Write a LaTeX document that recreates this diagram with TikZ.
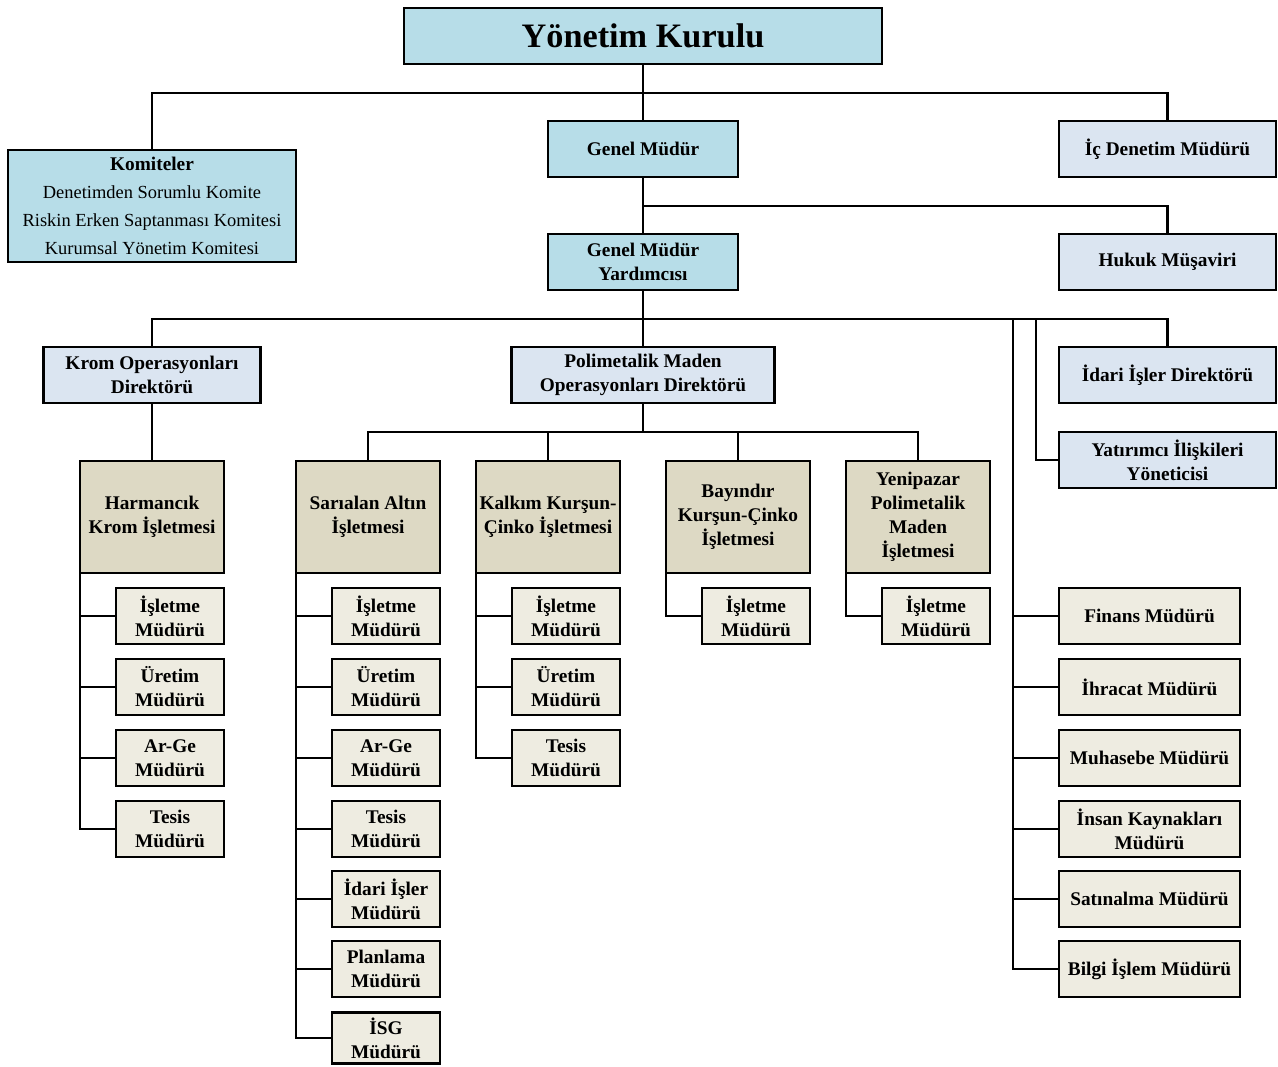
\documentclass[tikz,border=0pt]{standalone}
\usepackage{fontspec}
\setmainfont{Liberation Serif}
\usetikzlibrary{positioning}
\definecolor{boardblue}{HTML}{B7DDE8}
\definecolor{dirblue}{HTML}{DBE5F1}
\definecolor{optan}{HTML}{DDD9C4}
\definecolor{subbeige}{HTML}{EEECE1}

\tikzset{
  box/.style={draw, line width=1.6pt, inner sep=0pt, outer sep=0pt, align=center,
    font=\bfseries\fontsize{11}{13.7}\selectfont, minimum height=1.12cm},
  topbox/.style={box, fill=boardblue},
  dirbox/.style={box, fill=dirblue, minimum width=4.34cm},
  opbox/.style={box, fill=optan, minimum width=2.88cm, minimum height=2.24cm},
  subbox/.style={box, fill=subbeige, minimum width=2.16cm},
  mgrbox/.style={box, fill=subbeige, minimum width=3.62cm},
  link/.style={line width=1.6pt}
}

\begin{document}
\begin{tikzpicture}[x=0.02cm, y=-0.02cm]
    \useasboundingbox (0,0) rectangle (1278,1066);

    % Top levels
    \node[topbox, minimum width=9.56cm, font=\bfseries\fontsize{19.5}{22}\selectfont] (yk) at (643,36) {Yönetim Kurulu};
    \node[topbox, minimum width=5.76cm, minimum height=2.24cm, font=\fontsize{10.5}{16}\selectfont] (kom) at (152,206)
        {{\bfseries\fontsize{11}{16}\selectfont Komiteler}\\Denetimden Sorumlu Komite\\Riskin Erken Saptanması Komitesi\\Kurumsal Yönetim Komitesi};
    \node[topbox, minimum width=3.8cm] (gm) at (643,149) {Genel Müdür};
    \node[dirbox] (ic) at (1167.5,149) {İç Denetim Müdürü};
    \node[topbox, minimum width=3.8cm] (gmy) at (643,262) {Genel Müdür\\Yardımcısı};
    \node[dirbox] (hk) at (1167.5,262) {Hukuk Müşaviri};

    % Directors
    \node[dirbox] (krom) at (152,375) {Krom Operasyonları\\Direktörü};
    \node[dirbox, minimum width=5.26cm] (pm) at (643,375) {Polimetalik Maden\\Operasyonları Direktörü};
    \node[dirbox] (idr) at (1167.5,375) {İdari İşler Direktörü};
    \node[dirbox] (yat) at (1167.5,460) {Yatırımcı İlişkileri\\Yöneticisi};

    % Operations
    \node[opbox] (har) at (152,517) {Harmancık\\Krom İşletmesi};
    \node[opbox] (sar) at (368,517) {Sarıalan Altın\\İşletmesi};
    \node[opbox] (kal) at (548,517) {Kalkım Kurşun-\\Çinko İşletmesi};
    \node[opbox] (bay) at (738,517) {Bayındır\\Kurşun-Çinko\\İşletmesi};
    \node[opbox] (yen) at (918,517) {Yenipazar\\Polimetalik\\Maden\\İşletmesi};

    % Connectors, upper part
    \coordinate (j1) at (643,93);
    \draw[link] (yk) -- (gm);
    \draw[link] (kom.north) |- (j1) -| (ic.north);
    \coordinate (j2) at (643,206);
    \draw[link] (gm) -- (gmy);
    \draw[link] (j2) -| (hk.north);
    \coordinate (j3) at (643,319);
    \draw[link] (gmy) -- (pm);
    \draw[link] (krom.north) |- (j3) -| (idr.north);
    \coordinate (j4) at (1036,319);
    \draw[link] (j4) |- (yat.west);
    \draw[link] (krom) -- (har);
    \coordinate (j6) at (643,432);
    \draw[link] (pm) -- (j6);
    \draw[link] (sar.north) |- (j6) -| (yen.north);
    \draw[link] (kal.north) -- (kal.north |- j6);
    \draw[link] (bay.north) -- (bay.north |- j6);

    % Harmancik managers
    \foreach \t/\y [count=\i] in {İşletme\\Müdürü/616, Üretim\\Müdürü/687, Ar-Ge\\Müdürü/758, Tesis\\Müdürü/829} {
        \node[subbox] (h\i) at (170,\y) {\t};
        \draw[link] (har.south west |- h\i.west) -- (h\i.west);
    }
    \draw[link] (har.south west) |- (h4.west);

    % Sarialan managers
    \foreach \t/\y [count=\i] in {İşletme\\Müdürü/616, Üretim\\Müdürü/687, Ar-Ge\\Müdürü/758, Tesis\\Müdürü/829,
                                  İdari İşler\\Müdürü/899, Planlama\\Müdürü/969} {
        \node[subbox] (s\i) at (386,\y) {\t};
        \draw[link] (sar.south west |- s\i.west) -- (s\i.west);
    }
    \node[subbox, minimum height=1.02cm] (s7) at (386,1038) {İSG\\Müdürü};
    \draw[link] (sar.south west) |- (s7.west);

    % Kalkim managers
    \foreach \t/\y [count=\i] in {İşletme\\Müdürü/616, Üretim\\Müdürü/687, Tesis\\Müdürü/758} {
        \node[subbox] (k\i) at (566,\y) {\t};
        \draw[link] (kal.south west |- k\i.west) -- (k\i.west);
    }
    \draw[link] (kal.south west) |- (k3.west);

    % Bayindir and Yenipazar managers
    \node[subbox] (b1) at (756,616) {İşletme\\Müdürü};
    \draw[link] (bay.south west) |- (b1.west);
    \node[subbox] (y1) at (936,616) {İşletme\\Müdürü};
    \draw[link] (yen.south west) |- (y1.west);

    % Staff managers
    \coordinate (j5) at (1013,319);
    \foreach \t/\y [count=\i] in {Finans Müdürü/616, İhracat Müdürü/687, Muhasebe Müdürü/758,
                                  İnsan Kaynakları\\Müdürü/829, Satınalma Müdürü/899, Bilgi İşlem Müdürü/969} {
        \node[mgrbox] (m\i) at (1149.5,\y) {\t};
        \draw[link] (j5 |- m\i.west) -- (m\i.west);
    }
    \draw[link] (j5) |- (m6.west);
\end{tikzpicture}
\end{document}
